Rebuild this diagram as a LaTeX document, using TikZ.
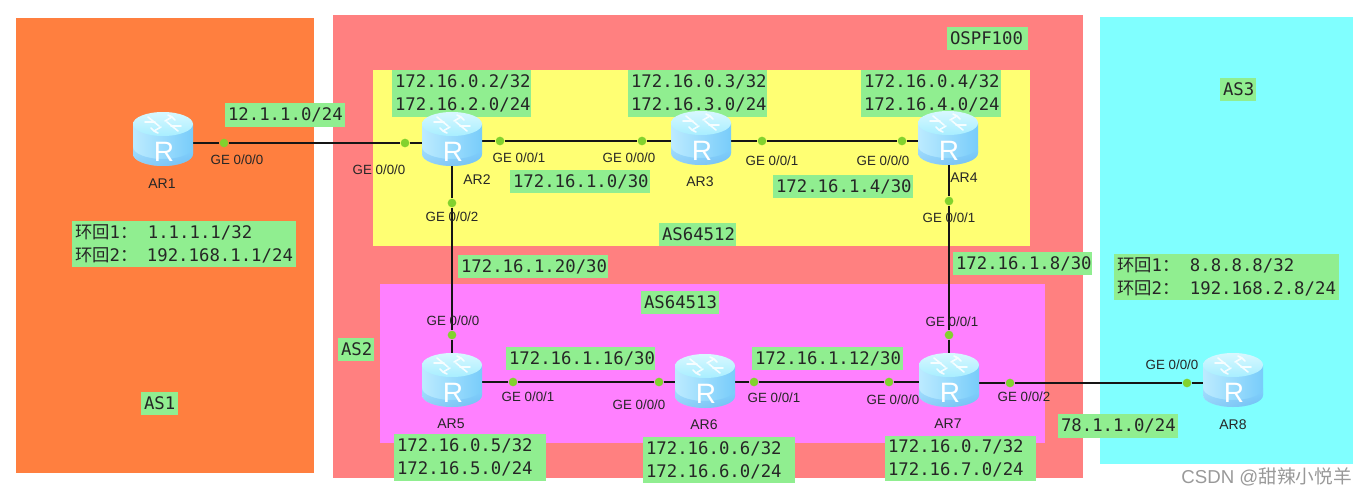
\documentclass[tikz,border=0pt]{standalone}
\usepackage{fontspec}
\setmainfont{Liberation Sans}
\newfontfamily\labmono{DejaVu Sans Mono}
\newfontfamily\cjk{Noto Sans CJK SC}
\pgfdeclarelayer{regions}
\pgfdeclarelayer{links}
\pgfsetlayers{regions,links,main}
\definecolor{asone}{HTML}{FF7F3F}
\definecolor{astwo}{HTML}{FF8080}
\definecolor{asthree}{HTML}{80FFFF}
\definecolor{yel}{HTML}{FFFF73}
\definecolor{mag}{HTML}{FF80FF}
\definecolor{lab}{HTML}{90EE90}
\definecolor{dotc}{HTML}{82D22E}
\definecolor{linkc}{HTML}{151515}
\definecolor{RLeft}{HTML}{BCEBFF}
\definecolor{RMid}{HTML}{86D4FF}
\definecolor{RRight}{HTML}{78CCFA}
\definecolor{RLow}{HTML}{6AB4F0}
\definecolor{RTop}{HTML}{D8F8FF}
\definecolor{RTopB}{HTML}{A8EEFF}
\tikzset{
  x=0.75pt,y=-0.75pt,
  dot/.style={circle,fill=dotc,minimum size=6.5pt,inner sep=0pt},
  rt/.style={minimum width=37pt,minimum height=22pt,inner sep=0pt},
  link/.style={draw=linkc,line width=2.2pt},
  ge/.style={font=\fontsize{10}{12}\selectfont,inner sep=0pt,text=black!85},
  arl/.style={font=\fontsize{10.5}{12}\selectfont,inner sep=0pt,text=black!85},
  router/.pic={
    \shade[left color=RLeft,middle color=RMid,right color=RRight]
      (-30,-15) -- (-30,15) arc[x radius=30,y radius=-12,start angle=180,end angle=360]
      -- (30,-15) -- cycle;
    \shade[top color=RMid,bottom color=RLow,opacity=0.5]
      (-30,8) -- (-30,15) arc[x radius=30,y radius=-12,start angle=180,end angle=360] -- (30,8)
      arc[x radius=30,y radius=-12,start angle=360,end angle=180] -- cycle;
    \shade[top color=RTop,bottom color=RTopB] (0,-15) ellipse[x radius=30,y radius=12];
    \draw[white,line width=1.2pt,opacity=.85,line cap=round]
      (-18,-17)--(-8,-17) (-15,-22)--(-4,-13)
      (18,-13)--(8,-13) (15,-8)--(4,-17)
      (-9,-8)--(-2,-12) (-12,-11)--(-9,-8)--(-5,-6)
      (9,-22)--(2,-18) (12,-19)--(9,-22)--(5,-24);
    \node[text=white,font=\fontsize{21}{21}\selectfont,inner sep=0pt] (-r) at (1,13) {R};
  }
}
% name, x1,y1,x2,y2, text
\newcommand\glab[6]{\node[fill=lab,inner xsep=2.25pt,inner ysep=0pt,
    minimum height={(#5-#3)*0.75pt},text width={(#4-#2)*0.75pt-4.5pt},align=flush left,
    font=\labmono\fontsize{13}{17.25}\selectfont,text=black!85,anchor=center]
    (#1) at ({(#2+#4)/2},{(#3+#5)/2}) {#6};}
\newcommand\loopl[1]{{\cjk 环回}#1{\cjk ：}\ }
\begin{document}
\begin{tikzpicture}
\useasboundingbox (0,0) rectangle (1368,496);
\begin{pgfonlayer}{regions}
\fill[white] (0,0) rectangle (1368,496);
\fill[asone] (16,18) rectangle (314,473);
\fill[astwo] (333,15) rectangle (1083,478);
\fill[asthree] (1100,17) rectangle (1353,464);
\fill[yel] (373,70) rectangle (1030,246);
\fill[mag] (380,284) rectangle (1045,443);
\end{pgfonlayer}

\node[rt] (ar1) at (163,143) {};
\node[rt] (ar2) at (452,143) {};
\node[rt] (ar3) at (701,141) {};
\node[rt] (ar4) at (949,141) {};
\node[rt] (ar5) at (452,382) {};
\node[rt] (ar6) at (705,382) {};
\node[rt] (ar7) at (949,382) {};
\node[rt] (ar8) at (1233,383) {};

\node[dot] (d1a) at (224,143) {};
\node[dot] (d2a) at (405,143) {};
\node[dot] (d2b) at (500,141) {};
\node[dot] (d3a) at (642,141) {};
\node[dot] (d3b) at (762,141) {};
\node[dot] (d4a) at (902,141) {};
\node[dot] (d2c) at (452,203) {};
\node[dot] (d5a) at (452,335) {};
\node[dot] (d4b) at (949,201) {};
\node[dot] (d7b) at (949,335) {};
\node[dot] (d5b) at (513,382) {};
\node[dot] (d6a) at (659,382) {};
\node[dot] (d6b) at (754,382) {};
\node[dot] (d7a) at (889,382) {};
\node[dot] (d7c) at (1010,383) {};
\node[dot] (d8a) at (1187,383) {};

\begin{pgfonlayer}{links}
\draw[link] (ar1) -- (d1a) -- (d2a) -- (ar2);
\draw[link] (ar2.east |- d2b) -- (d2b) -- (d3a) -- (ar3);
\draw[link] (ar3) -- (d3b) -- (d4a) -- (ar4);
\draw[link] (ar2) -- (d2c) -- (d5a) -- (ar5);
\draw[link] (ar4) -- (d4b) -- (d7b) -- (ar7);
\draw[link] (ar5) -- (d5b) -- (d6a) -- (ar6);
\draw[link] (ar6) -- (d6b) -- (d7a) -- (ar7);
\draw[link] (ar7.east |- d7c) -- (d7c) -- (d8a) -- (ar8);
\end{pgfonlayer}

\glab{ospf}{947}{27}{1028}{50}{OSPF100}
\glab{as3}{1220}{78}{1256}{101}{AS3}
\glab{as1}{141}{392}{178}{415}{AS1}
\glab{as2}{338}{338}{374}{361}{AS2}
\glab{asa}{659}{223}{736}{246}{AS64512}
\glab{asb}{641}{291}{719}{314}{AS64513}
\glab{n1}{225}{103}{345}{127}{12.1.1.0/24}
\glab{r2}{392}{70}{531}{117}{172.16.0.2/32\\172.16.2.0/24}
\glab{r3}{628}{70}{767}{117}{172.16.0.3/32\\172.16.3.0/24}
\glab{r4}{861}{70}{1001}{117}{172.16.0.4/32\\172.16.4.0/24}
\glab{n2}{510}{170}{650}{193}{172.16.1.0/30}
\glab{n3}{773}{175}{913}{198}{172.16.1.4/30}
\glab{n4}{458}{255}{608}{278}{172.16.1.20/30}
\glab{n5}{953}{252}{1092}{275}{172.16.1.8/30}
\glab{n6}{506}{347}{655}{370}{172.16.1.16/30}
\glab{n7}{752}{347}{903}{370}{172.16.1.12/30}
\glab{n8}{1058}{414}{1178}{438}{78.1.1.0/24}
\glab{r5}{394}{434}{546}{481}{172.16.0.5/32\\172.16.5.0/24}
\glab{r6}{643}{437}{795}{483}{172.16.0.6/32\\172.16.6.0/24}
\glab{r7}{885}{436}{1036}{481}{172.16.0.7/32\\172.16.7.0/24}
\glab{lo1}{72}{221}{296}{267}{\loopl{1}1.1.1.1/32\\\loopl{2}192.168.1.1/24}
\glab{lo2}{1114}{254}{1339}{300}{\loopl{1}8.8.8.8/32\\\loopl{2}192.168.2.8/24}

\pic (i1) at (163,139) {router};
\pic (i2) at (452,139) {router};
\pic (i3) at (701,138) {router};
\pic (i4) at (948,138) {router};
\pic (i5) at (452,380) {router};
\pic (i6) at (705,381) {router};
\pic (i7) at (949,380) {router};
\pic (i8) at (1233,380) {router};

\node[ge] (g1) at (237,160) {GE 0/0/0};
\node[ge] (g2) at (379,170) {GE 0/0/0};
\node[ge] (g3) at (519,158) {GE 0/0/1};
\node[ge] (g4) at (629,158) {GE 0/0/0};
\node[ge] (g5) at (772,161) {GE 0/0/1};
\node[ge] (g6) at (883,161) {GE 0/0/0};
\node[ge] (g7) at (452,217) {GE 0/0/2};
\node[ge] (g8) at (453,321) {GE 0/0/0};
\node[ge] (g9) at (949,218) {GE 0/0/1};
\node[ge] (g10) at (952,322) {GE 0/0/1};
\node[ge] (g11) at (528,397) {GE 0/0/1};
\node[ge] (g12) at (639,405) {GE 0/0/0};
\node[ge] (g13) at (774,398) {GE 0/0/1};
\node[ge] (g14) at (893,400) {GE 0/0/0};
\node[ge] (g15) at (1024,397) {GE 0/0/2};
\node[ge] (g16) at (1172,365) {GE 0/0/0};

\node[arl] (a1) at (162,184) {AR1};
\node[arl] (a2) at (477,180) {AR2};
\node[arl] (a3) at (700,182) {AR3};
\node[arl] (a4) at (964,178) {AR4};
\node[arl] (a5) at (451,424) {AR5};
\node[arl] (a6) at (704,425) {AR6};
\node[arl] (a7) at (948,424) {AR7};
\node[arl] (a8) at (1233,425) {AR8};

\node[anchor=east,inner sep=0pt,text=black!40,font=\fontsize{14}{15}\selectfont] (wm) at (1352,477) {CSDN @{\cjk 甜辣小悦羊}};
\end{tikzpicture}
\end{document}
